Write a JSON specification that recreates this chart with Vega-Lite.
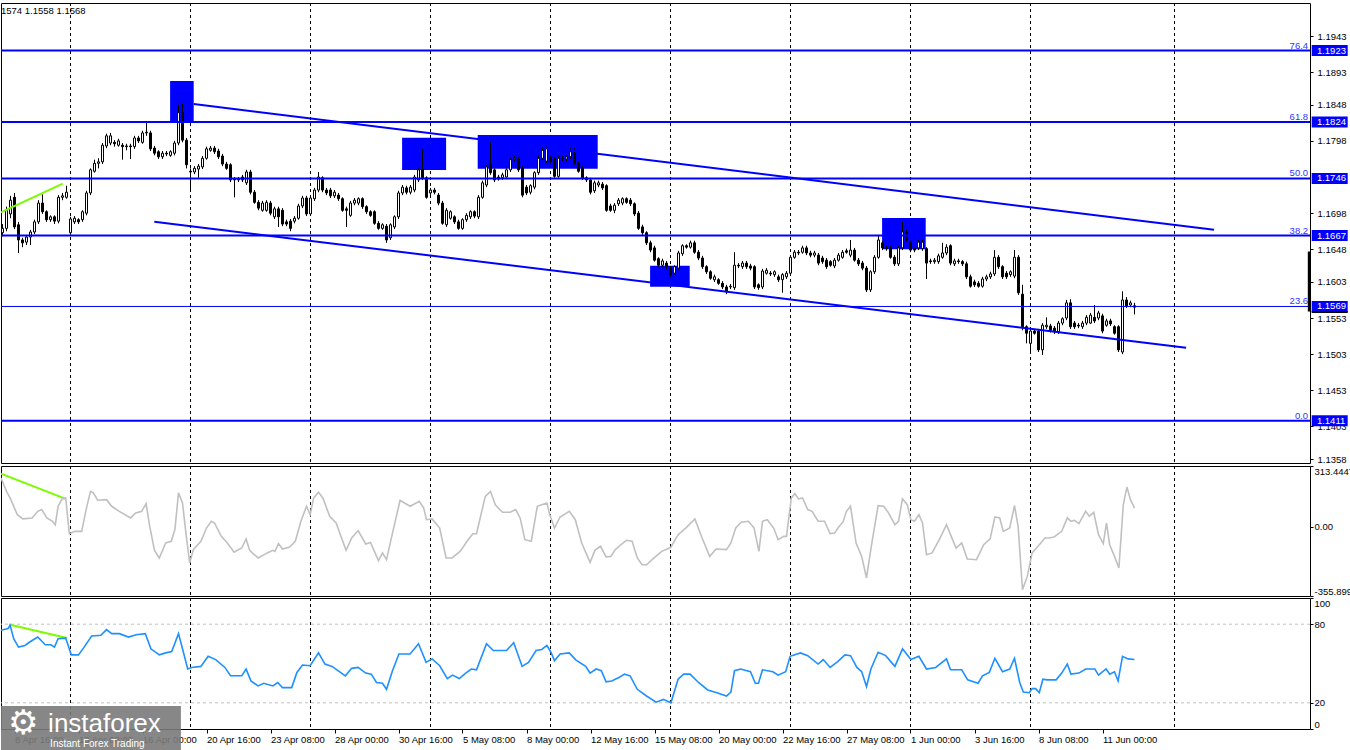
{
"$schema":"https://vega.github.io/schema/vega-lite/v6.json",
"background":"white",
"padding":{"left":0,"top":2,"right":0,"bottom":0},
"spacing":0,
"config":{"view":{"stroke":"black","strokeWidth":1},"axis":{"labelFont":"Liberation Sans","labelFontSize":9.5,"labelColor":"black","tickColor":"black","grid":false,"domain":false},"text":{"font":"Liberation Sans"}},
"datasets":{
"one":[{"k":1}],
"grid":[{"i":17},{"i":47},{"i":77},{"i":107},{"i":137},{"i":167},{"i":197},{"i":227},{"i":257},{"i":293}],
"fib":[{"v":1.1923,"pct":"76.4"},{"v":1.1824,"pct":"61.8"},{"v":1.1746,"pct":"50.0"},{"v":1.1667,"pct":"38.2"},{"v":1.1569,"pct":"23.6"},{"v":1.1411,"pct":"0.0"}],
"chan":[{"x1":47.8,"y1":1.1849,"x2":302.9,"y2":1.1675},{"x1":37.95,"y1":1.1686,"x2":295.9,"y2":1.1512}],
"boxes":[{"x1":41.9,"x2":47.8,"y1":1.18245,"y2":1.18808},{"x1":99.9,"x2":110.9,"y1":1.17577,"y2":1.18024},{"x1":118.8,"x2":148.8,"y1":1.17595,"y2":1.18061},{"x1":161.9,"x2":171.8,"y1":1.15963,"y2":1.16253},{"x1":219.9,"x2":230.8,"y1":1.1648,"y2":1.16913}],
"gmain":[{"i":-0.375,"v":1.1699},{"i":15.05,"v":1.1739}],
"gcci":[{"i":-0.375,"v":274},{"i":15.8,"v":144}],
"grsi":[{"i":1.65,"v":79.7},{"i":16.1,"v":69.4}],
"candles":[
{"i":0,"o":1.1671,"h":1.1683,"l":1.1666,"c":1.1677},{"i":1,"o":1.1677,"h":1.1707,"l":1.1673,"c":1.1702},{"i":2,"o":1.1697,"h":1.1722,"l":1.1691,"c":1.1716},{"i":3,"o":1.172,"h":1.1726,"l":1.1676,"c":1.1679},{"i":4,"o":1.1682,"h":1.1686,"l":1.1643,"c":1.1661},{"i":5,"o":1.1661,"h":1.1664,"l":1.1651,"c":1.1657},{"i":6,"o":1.1658,"h":1.1668,"l":1.1654,"c":1.1665},{"i":7,"o":1.1665,"h":1.1675,"l":1.1654,"c":1.1672},{"i":8,"o":1.1672,"h":1.1689,"l":1.1669,"c":1.1686},{"i":9,"o":1.1686,"h":1.1716,"l":1.1683,"c":1.1712},
{"i":10,"o":1.1712,"h":1.1724,"l":1.1697,"c":1.17},{"i":11,"o":1.17,"h":1.1702,"l":1.1686,"c":1.1689},{"i":12,"o":1.1689,"h":1.1695,"l":1.1686,"c":1.1693},{"i":13,"o":1.1693,"h":1.1695,"l":1.1683,"c":1.1687},{"i":14,"o":1.1687,"h":1.1723,"l":1.1684,"c":1.172},{"i":15,"o":1.172,"h":1.1726,"l":1.1716,"c":1.1722},{"i":16,"o":1.172,"h":1.1736,"l":1.1718,"c":1.1727},{"i":17,"o":1.1671,"h":1.1693,"l":1.1668,"c":1.169},{"i":18,"o":1.1686,"h":1.1694,"l":1.1683,"c":1.1691},{"i":19,"o":1.1689,"h":1.1691,"l":1.1683,"c":1.1686},
{"i":20,"o":1.1689,"h":1.1702,"l":1.1686,"c":1.17},{"i":21,"o":1.1698,"h":1.1729,"l":1.1695,"c":1.1726},{"i":22,"o":1.1726,"h":1.176,"l":1.1723,"c":1.1758},{"i":23,"o":1.1756,"h":1.1772,"l":1.1754,"c":1.1767},{"i":24,"o":1.1767,"h":1.1774,"l":1.176,"c":1.1769},{"i":25,"o":1.1769,"h":1.1795,"l":1.1766,"c":1.1792},{"i":26,"o":1.1791,"h":1.1808,"l":1.1788,"c":1.1805},{"i":27,"o":1.1795,"h":1.1809,"l":1.1792,"c":1.1805},{"i":28,"o":1.1796,"h":1.1799,"l":1.179,"c":1.1794},{"i":29,"o":1.1792,"h":1.1801,"l":1.179,"c":1.1798},
{"i":30,"o":1.1792,"h":1.1795,"l":1.1772,"c":1.179},{"i":31,"o":1.179,"h":1.1794,"l":1.1785,"c":1.1791},{"i":32,"o":1.1791,"h":1.1794,"l":1.1773,"c":1.179},{"i":33,"o":1.179,"h":1.1805,"l":1.1787,"c":1.1802},{"i":34,"o":1.1802,"h":1.1805,"l":1.1795,"c":1.1798},{"i":35,"o":1.1796,"h":1.1812,"l":1.1794,"c":1.1809},{"i":36,"o":1.1809,"h":1.1824,"l":1.1805,"c":1.181},{"i":37,"o":1.1809,"h":1.1812,"l":1.1784,"c":1.1787},{"i":38,"o":1.1788,"h":1.1791,"l":1.1778,"c":1.1781},{"i":39,"o":1.1783,"h":1.1785,"l":1.1773,"c":1.1776},
{"i":40,"o":1.1776,"h":1.1784,"l":1.1773,"c":1.1781},{"i":41,"o":1.1781,"h":1.1784,"l":1.1777,"c":1.178},{"i":42,"o":1.1778,"h":1.1785,"l":1.1776,"c":1.1783},{"i":43,"o":1.1781,"h":1.1798,"l":1.1778,"c":1.1795},{"i":44,"o":1.1795,"h":1.1848,"l":1.1792,"c":1.1837},{"i":45,"o":1.1837,"h":1.1849,"l":1.1796,"c":1.1799},{"i":46,"o":1.1799,"h":1.1802,"l":1.176,"c":1.1765},{"i":47,"o":1.1756,"h":1.176,"l":1.173,"c":1.1755},{"i":48,"o":1.1755,"h":1.1763,"l":1.1752,"c":1.176},{"i":49,"o":1.1759,"h":1.1766,"l":1.1747,"c":1.1763},
{"i":50,"o":1.1762,"h":1.1777,"l":1.1759,"c":1.1774},{"i":51,"o":1.1774,"h":1.179,"l":1.1772,"c":1.1787},{"i":52,"o":1.1785,"h":1.1791,"l":1.1783,"c":1.1788},{"i":53,"o":1.1788,"h":1.1791,"l":1.178,"c":1.1783},{"i":54,"o":1.1784,"h":1.1787,"l":1.1773,"c":1.1776},{"i":55,"o":1.1777,"h":1.178,"l":1.1763,"c":1.1766},{"i":56,"o":1.1766,"h":1.1769,"l":1.1758,"c":1.176},{"i":57,"o":1.1765,"h":1.1767,"l":1.1741,"c":1.1744},{"i":58,"o":1.1745,"h":1.1748,"l":1.172,"c":1.1744},{"i":59,"o":1.1744,"h":1.1748,"l":1.1741,"c":1.1745},
{"i":60,"o":1.1748,"h":1.1751,"l":1.1741,"c":1.1744},{"i":61,"o":1.174,"h":1.1758,"l":1.1737,"c":1.1755},{"i":62,"o":1.1755,"h":1.1758,"l":1.1724,"c":1.1727},{"i":63,"o":1.1727,"h":1.173,"l":1.1711,"c":1.1713},{"i":64,"o":1.1713,"h":1.1716,"l":1.1702,"c":1.1705},{"i":65,"o":1.1702,"h":1.1715,"l":1.17,"c":1.1712},{"i":66,"o":1.1702,"h":1.1716,"l":1.17,"c":1.1713},{"i":67,"o":1.1712,"h":1.1715,"l":1.1695,"c":1.1698},{"i":68,"o":1.1693,"h":1.1707,"l":1.169,"c":1.1704},{"i":69,"o":1.1704,"h":1.1707,"l":1.1679,"c":1.1693},
{"i":70,"o":1.1702,"h":1.1705,"l":1.168,"c":1.1683},{"i":71,"o":1.1686,"h":1.1689,"l":1.168,"c":1.1683},{"i":72,"o":1.1687,"h":1.169,"l":1.1673,"c":1.1677},{"i":73,"o":1.1687,"h":1.1694,"l":1.1684,"c":1.1691},{"i":74,"o":1.1691,"h":1.1711,"l":1.1689,"c":1.1708},{"i":75,"o":1.1708,"h":1.1722,"l":1.1705,"c":1.1719},{"i":76,"o":1.1719,"h":1.1722,"l":1.1694,"c":1.1697},{"i":77,"o":1.1697,"h":1.1722,"l":1.1694,"c":1.1719},{"i":78,"o":1.1718,"h":1.1733,"l":1.1715,"c":1.173},{"i":79,"o":1.173,"h":1.1755,"l":1.1727,"c":1.1748},
{"i":80,"o":1.1747,"h":1.1749,"l":1.1727,"c":1.173},{"i":81,"o":1.173,"h":1.1733,"l":1.1723,"c":1.1726},{"i":82,"o":1.173,"h":1.1733,"l":1.1719,"c":1.1722},{"i":83,"o":1.1722,"h":1.173,"l":1.1719,"c":1.1727},{"i":84,"o":1.1723,"h":1.1726,"l":1.1715,"c":1.1718},{"i":85,"o":1.1718,"h":1.172,"l":1.17,"c":1.1702},{"i":86,"o":1.1704,"h":1.1707,"l":1.1679,"c":1.1702},{"i":87,"o":1.1695,"h":1.1715,"l":1.1693,"c":1.1712},{"i":88,"o":1.1712,"h":1.1719,"l":1.1709,"c":1.1716},{"i":89,"o":1.1712,"h":1.172,"l":1.1709,"c":1.1718},
{"i":90,"o":1.1718,"h":1.172,"l":1.1704,"c":1.1707},{"i":91,"o":1.1707,"h":1.1709,"l":1.1697,"c":1.17},{"i":92,"o":1.17,"h":1.1702,"l":1.1693,"c":1.1695},{"i":93,"o":1.17,"h":1.1702,"l":1.1682,"c":1.1684},{"i":94,"o":1.1684,"h":1.1687,"l":1.1675,"c":1.1677},{"i":95,"o":1.1677,"h":1.1684,"l":1.1675,"c":1.1682},{"i":96,"o":1.168,"h":1.1683,"l":1.1657,"c":1.1661},{"i":97,"o":1.1664,"h":1.1684,"l":1.1661,"c":1.1682},{"i":98,"o":1.1679,"h":1.1695,"l":1.1676,"c":1.1693},{"i":99,"o":1.1693,"h":1.1729,"l":1.169,"c":1.1726},
{"i":100,"o":1.1726,"h":1.1737,"l":1.1723,"c":1.1734},{"i":101,"o":1.1733,"h":1.1736,"l":1.1724,"c":1.1727},{"i":102,"o":1.1727,"h":1.1737,"l":1.1724,"c":1.1734},{"i":103,"o":1.173,"h":1.1751,"l":1.1727,"c":1.1748},{"i":104,"o":1.1744,"h":1.176,"l":1.1741,"c":1.1758},{"i":105,"o":1.1758,"h":1.1787,"l":1.1744,"c":1.1747},{"i":106,"o":1.1747,"h":1.1749,"l":1.1718,"c":1.172},{"i":107,"o":1.1726,"h":1.1733,"l":1.1723,"c":1.173},{"i":108,"o":1.173,"h":1.1733,"l":1.1724,"c":1.1727},{"i":109,"o":1.1723,"h":1.1726,"l":1.1709,"c":1.1712},
{"i":110,"o":1.1712,"h":1.1715,"l":1.1682,"c":1.1684},{"i":111,"o":1.1682,"h":1.1705,"l":1.1679,"c":1.1702},{"i":112,"o":1.1691,"h":1.1702,"l":1.1689,"c":1.17},{"i":113,"o":1.1693,"h":1.1695,"l":1.1683,"c":1.1686},{"i":114,"o":1.1686,"h":1.1689,"l":1.1675,"c":1.1677},{"i":115,"o":1.1677,"h":1.1691,"l":1.1675,"c":1.1689},{"i":116,"o":1.1689,"h":1.1698,"l":1.1686,"c":1.1695},{"i":117,"o":1.1693,"h":1.1702,"l":1.169,"c":1.17},{"i":118,"o":1.17,"h":1.1702,"l":1.1691,"c":1.1694},{"i":119,"o":1.1693,"h":1.1723,"l":1.169,"c":1.172},
{"i":120,"o":1.172,"h":1.1743,"l":1.1718,"c":1.174},{"i":121,"o":1.1737,"h":1.1765,"l":1.1734,"c":1.1762},{"i":122,"o":1.1765,"h":1.1796,"l":1.1751,"c":1.1754},{"i":123,"o":1.1758,"h":1.176,"l":1.1741,"c":1.1744},{"i":124,"o":1.1748,"h":1.1751,"l":1.1743,"c":1.1745},{"i":125,"o":1.1747,"h":1.1754,"l":1.1744,"c":1.1751},{"i":126,"o":1.1748,"h":1.176,"l":1.1745,"c":1.1758},{"i":127,"o":1.1758,"h":1.1774,"l":1.1755,"c":1.1772},{"i":128,"o":1.1772,"h":1.1777,"l":1.1769,"c":1.1774},{"i":129,"o":1.1773,"h":1.1776,"l":1.1755,"c":1.1758},
{"i":130,"o":1.176,"h":1.1763,"l":1.172,"c":1.1723},{"i":131,"o":1.1734,"h":1.1737,"l":1.1723,"c":1.1726},{"i":132,"o":1.1727,"h":1.1738,"l":1.1724,"c":1.1736},{"i":133,"o":1.1734,"h":1.1756,"l":1.1731,"c":1.1754},{"i":134,"o":1.1754,"h":1.1777,"l":1.1751,"c":1.1774},{"i":135,"o":1.1774,"h":1.1788,"l":1.1772,"c":1.1785},{"i":136,"o":1.177,"h":1.1791,"l":1.1767,"c":1.1787},{"i":137,"o":1.1774,"h":1.1777,"l":1.1766,"c":1.1769},{"i":138,"o":1.1773,"h":1.1776,"l":1.1747,"c":1.1749},{"i":139,"o":1.1749,"h":1.1777,"l":1.1747,"c":1.1774},
{"i":140,"o":1.1774,"h":1.1777,"l":1.177,"c":1.1773},{"i":141,"o":1.1773,"h":1.1778,"l":1.177,"c":1.1776},{"i":142,"o":1.1776,"h":1.1788,"l":1.1773,"c":1.1783},{"i":143,"o":1.1781,"h":1.1788,"l":1.1765,"c":1.1767},{"i":144,"o":1.1767,"h":1.177,"l":1.1754,"c":1.1756},{"i":145,"o":1.176,"h":1.1763,"l":1.1744,"c":1.1747},{"i":146,"o":1.1747,"h":1.1749,"l":1.1741,"c":1.1744},{"i":147,"o":1.1744,"h":1.1747,"l":1.1724,"c":1.1727},{"i":148,"o":1.1729,"h":1.1743,"l":1.1726,"c":1.174},{"i":149,"o":1.1737,"h":1.1743,"l":1.1734,"c":1.174},
{"i":150,"o":1.1738,"h":1.1741,"l":1.173,"c":1.1733},{"i":151,"o":1.1736,"h":1.1738,"l":1.17,"c":1.1702},{"i":152,"o":1.1708,"h":1.1711,"l":1.17,"c":1.1702},{"i":153,"o":1.1702,"h":1.1712,"l":1.1698,"c":1.1709},{"i":154,"o":1.1711,"h":1.1719,"l":1.1708,"c":1.1716},{"i":155,"o":1.1712,"h":1.172,"l":1.1709,"c":1.1718},{"i":156,"o":1.1718,"h":1.172,"l":1.1711,"c":1.1713},{"i":157,"o":1.1716,"h":1.1719,"l":1.1708,"c":1.1711},{"i":158,"o":1.1711,"h":1.1713,"l":1.1694,"c":1.1697},{"i":159,"o":1.1698,"h":1.1701,"l":1.1675,"c":1.1677},
{"i":160,"o":1.1679,"h":1.1682,"l":1.1668,"c":1.1671},{"i":161,"o":1.1671,"h":1.1673,"l":1.1654,"c":1.1657},{"i":162,"o":1.1657,"h":1.166,"l":1.1644,"c":1.1647},{"i":163,"o":1.165,"h":1.1653,"l":1.1631,"c":1.1633},{"i":164,"o":1.1635,"h":1.1637,"l":1.1624,"c":1.1626},{"i":165,"o":1.1626,"h":1.1635,"l":1.1624,"c":1.1632},{"i":166,"o":1.1629,"h":1.1632,"l":1.1621,"c":1.1624},{"i":167,"o":1.1622,"h":1.1625,"l":1.161,"c":1.1613},{"i":168,"o":1.1615,"h":1.1626,"l":1.1613,"c":1.1624},{"i":169,"o":1.1622,"h":1.1646,"l":1.1619,"c":1.1643},
{"i":170,"o":1.1642,"h":1.1655,"l":1.1639,"c":1.1653},{"i":171,"o":1.1653,"h":1.1655,"l":1.1649,"c":1.1651},{"i":172,"o":1.1651,"h":1.166,"l":1.1649,"c":1.1657},{"i":173,"o":1.1657,"h":1.166,"l":1.1642,"c":1.1644},{"i":174,"o":1.1644,"h":1.1647,"l":1.1633,"c":1.1636},{"i":175,"o":1.1636,"h":1.1639,"l":1.1621,"c":1.1624},{"i":176,"o":1.1624,"h":1.1626,"l":1.1614,"c":1.1617},{"i":177,"o":1.1617,"h":1.1619,"l":1.1606,"c":1.1608},{"i":178,"o":1.1606,"h":1.1613,"l":1.1603,"c":1.161},{"i":179,"o":1.1606,"h":1.1608,"l":1.1599,"c":1.1601},
{"i":180,"o":1.1601,"h":1.1604,"l":1.1593,"c":1.1596},{"i":181,"o":1.1596,"h":1.1599,"l":1.1586,"c":1.1589},{"i":182,"o":1.1596,"h":1.16,"l":1.1593,"c":1.1597},{"i":183,"o":1.1595,"h":1.1644,"l":1.1592,"c":1.1626},{"i":184,"o":1.1626,"h":1.1629,"l":1.1622,"c":1.1625},{"i":185,"o":1.1624,"h":1.1632,"l":1.1621,"c":1.1629},{"i":186,"o":1.1629,"h":1.1632,"l":1.1621,"c":1.1624},{"i":187,"o":1.1625,"h":1.1628,"l":1.1619,"c":1.1622},{"i":188,"o":1.1624,"h":1.1626,"l":1.1593,"c":1.1596},{"i":189,"o":1.1599,"h":1.1601,"l":1.1592,"c":1.1595},
{"i":190,"o":1.1596,"h":1.1621,"l":1.1593,"c":1.1618},{"i":191,"o":1.1615,"h":1.1622,"l":1.1613,"c":1.1619},{"i":192,"o":1.1615,"h":1.1618,"l":1.1611,"c":1.1614},{"i":193,"o":1.1613,"h":1.1619,"l":1.161,"c":1.1617},{"i":194,"o":1.161,"h":1.1613,"l":1.1603,"c":1.1606},{"i":195,"o":1.1606,"h":1.1615,"l":1.1588,"c":1.1613},{"i":196,"o":1.161,"h":1.1618,"l":1.1607,"c":1.1615},{"i":197,"o":1.1615,"h":1.164,"l":1.1613,"c":1.1637},{"i":198,"o":1.1637,"h":1.1647,"l":1.1635,"c":1.1644},{"i":199,"o":1.1644,"h":1.1647,"l":1.164,"c":1.1643},
{"i":200,"o":1.1644,"h":1.1653,"l":1.1642,"c":1.165},{"i":201,"o":1.165,"h":1.1653,"l":1.164,"c":1.1643},{"i":202,"o":1.1643,"h":1.1646,"l":1.1637,"c":1.164},{"i":203,"o":1.164,"h":1.1646,"l":1.1637,"c":1.1643},{"i":204,"o":1.164,"h":1.1643,"l":1.1626,"c":1.1629},{"i":205,"o":1.1636,"h":1.1639,"l":1.1628,"c":1.1631},{"i":206,"o":1.1633,"h":1.1636,"l":1.1621,"c":1.1624},{"i":207,"o":1.1631,"h":1.1633,"l":1.1624,"c":1.1626},{"i":208,"o":1.1625,"h":1.1636,"l":1.1622,"c":1.1633},{"i":209,"o":1.1633,"h":1.1643,"l":1.1631,"c":1.164},
{"i":210,"o":1.1637,"h":1.1647,"l":1.1635,"c":1.1644},{"i":211,"o":1.1646,"h":1.1649,"l":1.1642,"c":1.1644},{"i":212,"o":1.164,"h":1.1661,"l":1.1637,"c":1.1647},{"i":213,"o":1.1647,"h":1.165,"l":1.1631,"c":1.1633},{"i":214,"o":1.1633,"h":1.1636,"l":1.1625,"c":1.1628},{"i":215,"o":1.1629,"h":1.1632,"l":1.1619,"c":1.1622},{"i":216,"o":1.1622,"h":1.1625,"l":1.1589,"c":1.1592},{"i":217,"o":1.1592,"h":1.1619,"l":1.1589,"c":1.1617},{"i":218,"o":1.1617,"h":1.164,"l":1.1614,"c":1.1637},{"i":219,"o":1.1637,"h":1.1668,"l":1.1635,"c":1.1661},
{"i":220,"o":1.1657,"h":1.166,"l":1.1647,"c":1.165},{"i":221,"o":1.165,"h":1.1653,"l":1.1646,"c":1.1649},{"i":222,"o":1.165,"h":1.1653,"l":1.1635,"c":1.1637},{"i":223,"o":1.1637,"h":1.164,"l":1.1625,"c":1.1628},{"i":224,"o":1.1628,"h":1.1653,"l":1.1625,"c":1.165},{"i":225,"o":1.165,"h":1.1686,"l":1.1647,"c":1.1672},{"i":226,"o":1.1672,"h":1.1675,"l":1.1658,"c":1.1661},{"i":227,"o":1.1657,"h":1.166,"l":1.1644,"c":1.1647},{"i":228,"o":1.1649,"h":1.1651,"l":1.1644,"c":1.1647},{"i":229,"o":1.165,"h":1.1661,"l":1.1647,"c":1.1658},
{"i":230,"o":1.1649,"h":1.1661,"l":1.1646,"c":1.1658},{"i":231,"o":1.1649,"h":1.1651,"l":1.1607,"c":1.1629},{"i":232,"o":1.1632,"h":1.1635,"l":1.1628,"c":1.1631},{"i":233,"o":1.1631,"h":1.1636,"l":1.1628,"c":1.1633},{"i":234,"o":1.1631,"h":1.1642,"l":1.1628,"c":1.1639},{"i":235,"o":1.1637,"h":1.1657,"l":1.1635,"c":1.1643},{"i":236,"o":1.1643,"h":1.1655,"l":1.164,"c":1.1651},{"i":237,"o":1.1653,"h":1.1655,"l":1.1626,"c":1.1629},{"i":238,"o":1.1628,"h":1.1635,"l":1.1625,"c":1.1632},{"i":239,"o":1.1632,"h":1.1635,"l":1.1628,"c":1.1631},
{"i":240,"o":1.1631,"h":1.1633,"l":1.1625,"c":1.1628},{"i":241,"o":1.1628,"h":1.1631,"l":1.1607,"c":1.161},{"i":242,"o":1.161,"h":1.1613,"l":1.1595,"c":1.1597},{"i":243,"o":1.1603,"h":1.1606,"l":1.1596,"c":1.1599},{"i":244,"o":1.1601,"h":1.1604,"l":1.1595,"c":1.1597},{"i":245,"o":1.1597,"h":1.161,"l":1.1595,"c":1.1607},{"i":246,"o":1.1607,"h":1.1613,"l":1.1604,"c":1.161},{"i":247,"o":1.161,"h":1.1617,"l":1.1607,"c":1.1614},{"i":248,"o":1.1614,"h":1.1647,"l":1.1611,"c":1.1637},{"i":249,"o":1.1637,"h":1.164,"l":1.1621,"c":1.1624},
{"i":250,"o":1.1624,"h":1.1626,"l":1.1607,"c":1.161},{"i":251,"o":1.1615,"h":1.1618,"l":1.1607,"c":1.161},{"i":252,"o":1.1613,"h":1.1619,"l":1.161,"c":1.1617},{"i":253,"o":1.1611,"h":1.1647,"l":1.1608,"c":1.1637},{"i":254,"o":1.1637,"h":1.164,"l":1.1585,"c":1.1588},{"i":255,"o":1.1586,"h":1.1599,"l":1.1536,"c":1.1541},{"i":256,"o":1.1541,"h":1.1543,"l":1.1518,"c":1.1532},{"i":257,"o":1.1518,"h":1.1538,"l":1.1506,"c":1.1535},{"i":258,"o":1.1535,"h":1.1538,"l":1.153,"c":1.1532},{"i":259,"o":1.1535,"h":1.1538,"l":1.1506,"c":1.1509},
{"i":260,"o":1.1509,"h":1.1546,"l":1.1502,"c":1.1543},{"i":261,"o":1.1541,"h":1.1554,"l":1.1538,"c":1.1543},{"i":262,"o":1.1542,"h":1.1545,"l":1.1533,"c":1.1536},{"i":263,"o":1.1539,"h":1.1542,"l":1.1531,"c":1.1534},{"i":264,"o":1.1534,"h":1.1549,"l":1.1531,"c":1.1546},{"i":265,"o":1.1546,"h":1.1554,"l":1.1543,"c":1.1552},{"i":266,"o":1.1553,"h":1.1578,"l":1.155,"c":1.1574},{"i":267,"o":1.1574,"h":1.1579,"l":1.1538,"c":1.1541},{"i":268,"o":1.1546,"h":1.1549,"l":1.1538,"c":1.1541},{"i":269,"o":1.1543,"h":1.1546,"l":1.1539,"c":1.1542},
{"i":270,"o":1.1541,"h":1.1549,"l":1.1538,"c":1.1546},{"i":271,"o":1.1546,"h":1.1557,"l":1.1543,"c":1.1554},{"i":272,"o":1.1546,"h":1.156,"l":1.1545,"c":1.1557},{"i":273,"o":1.1554,"h":1.1571,"l":1.1546,"c":1.1549},{"i":274,"o":1.1553,"h":1.1563,"l":1.155,"c":1.156},{"i":275,"o":1.1556,"h":1.1559,"l":1.1532,"c":1.1535},{"i":276,"o":1.1543,"h":1.1552,"l":1.1541,"c":1.1549},{"i":277,"o":1.1549,"h":1.1552,"l":1.1542,"c":1.1545},{"i":278,"o":1.1541,"h":1.1543,"l":1.153,"c":1.1532},{"i":279,"o":1.1541,"h":1.1543,"l":1.1506,"c":1.1509},
{"i":280,"o":1.1506,"h":1.159,"l":1.1503,"c":1.1578},{"i":281,"o":1.1578,"h":1.1582,"l":1.1567,"c":1.157},{"i":282,"o":1.1571,"h":1.1577,"l":1.1568,"c":1.1574},{"i":283,"o":1.157,"h":1.1574,"l":1.1558,"c":1.1568}
],
"cci":[{"i":-0.375,"v":252},{"i":1,"v":183},{"i":1.9,"v":149},{"i":3.7,"v":63},{"i":5.1,"v":41},{"i":7.4,"v":46},{"i":8.8,"v":80},{"i":9.8,"v":89},{"i":11.1,"v":46},{"i":12.5,"v":29},{"i":13.2,"v":11},{"i":13.9,"v":106},{"i":14.9,"v":144},{"i":15.8,"v":149},{"i":16.7,"v":-35},{"i":18.1,"v":-23},{"i":19.8,"v":-23},{"i":20.9,"v":89},{"i":22,"v":183},{"i":22.7,"v":175},{"i":23.8,"v":137},{"i":26,"v":140},{"i":27.3,"v":106},{"i":29.2,"v":80},{"i":32,"v":46},{"i":33.3,"v":72},{"i":34.8,"v":80},{"i":35.9,"v":120},{"i":36.8,"v":3},{"i":38,"v":-121},{"i":39.2,"v":-160},{"i":40.8,"v":-83},{"i":42.2,"v":-74},{"i":43.1,"v":-14},{"i":44,"v":175},{"i":45,"v":123},{"i":45.9,"v":-40},{"i":46.8,"v":-186},{"i":47.7,"v":-117},{"i":49.6,"v":-74},{"i":51,"v":-6},{"i":52.2,"v":29},{"i":53,"v":20},{"i":54.7,"v":-49},{"i":56.2,"v":-83},{"i":57.9,"v":-131},{"i":59.8,"v":-109},{"i":60.9,"v":-62},{"i":61.8,"v":-121},{"i":63.9,"v":-160},{"i":66.2,"v":-134},{"i":67.6,"v":-121},{"i":68.1,"v":-126},{"i":69,"v":-86},{"i":70,"v":-114},{"i":71.8,"v":-104},{"i":73.2,"v":-74},{"i":74.6,"v":29},{"i":76,"v":106},{"i":76.9,"v":63},{"i":77.8,"v":149},{"i":79,"v":178},{"i":80.1,"v":149},{"i":81.8,"v":54},{"i":83.4,"v":20},{"i":85.9,"v":-121},{"i":87.3,"v":-57},{"i":88.9,"v":-19},{"i":90.8,"v":-88},{"i":92,"v":-80},{"i":94,"v":-174},{"i":95,"v":-134},{"i":96,"v":-169},{"i":97.5,"v":-32},{"i":99.4,"v":137},{"i":100.5,"v":123},{"i":101.9,"v":106},{"i":104.2,"v":132},{"i":105.3,"v":97},{"i":106,"v":37},{"i":107.4,"v":41},{"i":109.3,"v":-6},{"i":110.9,"v":-160},{"i":112.4,"v":-160},{"i":114.4,"v":-126},{"i":116.4,"v":-66},{"i":117.6,"v":-35},{"i":118.5,"v":-35},{"i":120.7,"v":157},{"i":122,"v":183},{"i":123.2,"v":114},{"i":125,"v":75},{"i":126.9,"v":75},{"i":128.3,"v":89},{"i":129.4,"v":46},{"i":130.6,"v":-66},{"i":132.2,"v":-74},{"i":133.7,"v":106},{"i":134.8,"v":114},{"i":136.1,"v":123},{"i":136.8,"v":63},{"i":138,"v":-6},{"i":139.4,"v":51},{"i":141.7,"v":80},{"i":143.2,"v":37},{"i":144.8,"v":-83},{"i":146.9,"v":-183},{"i":148.1,"v":-121},{"i":149.5,"v":-100},{"i":150.9,"v":-155},{"i":152.1,"v":-152},{"i":153.2,"v":-117},{"i":154.6,"v":-92},{"i":156,"v":-69},{"i":157.4,"v":-74},{"i":158.7,"v":-160},{"i":159.9,"v":-195},{"i":161,"v":-195},{"i":162.9,"v":-160},{"i":164.8,"v":-126},{"i":167.1,"v":-105},{"i":168.9,"v":-40},{"i":170.8,"v":-6},{"i":173.1,"v":41},{"i":174.9,"v":-57},{"i":176.8,"v":-152},{"i":178.4,"v":-114},{"i":181,"v":-117},{"i":182.1,"v":-83},{"i":183.3,"v":-6},{"i":184.7,"v":24},{"i":186.5,"v":29},{"i":187.9,"v":-6},{"i":189.1,"v":-126},{"i":190,"v":29},{"i":191.2,"v":37},{"i":192.8,"v":-6},{"i":193.9,"v":-66},{"i":195.3,"v":-49},{"i":196,"v":-49},{"i":197.2,"v":149},{"i":198.1,"v":171},{"i":199,"v":144},{"i":200,"v":149},{"i":201.3,"v":89},{"i":202.4,"v":80},{"i":203.9,"v":29},{"i":205.5,"v":29},{"i":206.9,"v":-35},{"i":208,"v":-32},{"i":209.2,"v":3},{"i":210.1,"v":24},{"i":211,"v":80},{"i":212,"v":106},{"i":213.4,"v":-83},{"i":214.8,"v":-152},{"i":216,"v":-263},{"i":217.2,"v":-100},{"i":218.9,"v":109},{"i":220.3,"v":106},{"i":221.5,"v":72},{"i":223.1,"v":11},{"i":224,"v":29},{"i":225,"v":144},{"i":226.2,"v":114},{"i":227.1,"v":37},{"i":228,"v":29},{"i":229.1,"v":63},{"i":230,"v":20},{"i":231,"v":-143},{"i":232.4,"v":-134},{"i":234.2,"v":-66},{"i":236,"v":11},{"i":237,"v":-40},{"i":238.4,"v":-109},{"i":239.8,"v":-83},{"i":241.2,"v":-165},{"i":243.5,"v":-169},{"i":245.3,"v":-92},{"i":246.9,"v":-62},{"i":248.1,"v":51},{"i":249.3,"v":46},{"i":250.2,"v":-23},{"i":251.8,"v":-6},{"i":253,"v":109},{"i":253.9,"v":3},{"i":255,"v":-323},{"i":256.2,"v":-255},{"i":257.4,"v":-134},{"i":258.9,"v":-100},{"i":260.6,"v":-57},{"i":261.5,"v":-57},{"i":262.9,"v":-52},{"i":264.8,"v":-23},{"i":266.2,"v":46},{"i":267.1,"v":29},{"i":268,"v":34},{"i":269.1,"v":17},{"i":270.8,"v":80},{"i":271.7,"v":54},{"i":272.8,"v":75},{"i":274,"v":-40},{"i":275.2,"v":-86},{"i":276,"v":20},{"i":276.8,"v":-92},{"i":278,"v":-152},{"i":279.1,"v":-212},{"i":280.2,"v":114},{"i":281.1,"v":205},{"i":282,"v":140},{"i":283,"v":97}],
"rsi":[{"i":-0.375,"v":75.4},{"i":1.4,"v":76.7},{"i":1.9,"v":79.2},{"i":2.8,"v":68.9},{"i":4,"v":62.5},{"i":5.6,"v":63.8},{"i":6.8,"v":66.4},{"i":8.8,"v":70.2},{"i":10.7,"v":64.3},{"i":12.1,"v":64.3},{"i":13,"v":62.5},{"i":13.9,"v":68.9},{"i":15.8,"v":69.4},{"i":17.2,"v":56.6},{"i":19,"v":56.6},{"i":20.4,"v":62.5},{"i":22.3,"v":71},{"i":24.6,"v":71.5},{"i":26,"v":75.9},{"i":27.3,"v":72.8},{"i":29.2,"v":72.8},{"i":31.5,"v":70.2},{"i":33.4,"v":72},{"i":35.7,"v":72.8},{"i":37.1,"v":61.2},{"i":39.2,"v":56.6},{"i":40.8,"v":58.1},{"i":42.3,"v":59.1},{"i":44,"v":72.8},{"i":45,"v":61.2},{"i":46.3,"v":45.8},{"i":47.3,"v":47},{"i":49.6,"v":47.8},{"i":51.4,"v":55.5},{"i":53.3,"v":53},{"i":55.6,"v":47},{"i":57,"v":40.6},{"i":59.8,"v":40.6},{"i":60.9,"v":45.8},{"i":62.1,"v":36.7},{"i":63.9,"v":32.9},{"i":65.3,"v":34.9},{"i":67.6,"v":32.9},{"i":68.8,"v":35.5},{"i":70,"v":31.6},{"i":72.3,"v":31.6},{"i":73.6,"v":43.2},{"i":75,"v":48.8},{"i":76.9,"v":48.3},{"i":79,"v":58.1},{"i":80.6,"v":49.6},{"i":82.4,"v":47.8},{"i":85.7,"v":40.6},{"i":87.3,"v":46.3},{"i":88.9,"v":47},{"i":90.8,"v":42.7},{"i":92.2,"v":41.9},{"i":93.5,"v":35.5},{"i":95,"v":34.9},{"i":96,"v":30.3},{"i":97.5,"v":44.5},{"i":99.1,"v":57.3},{"i":101.9,"v":57.3},{"i":104,"v":65.1},{"i":105.9,"v":50.9},{"i":107.4,"v":53.5},{"i":109.3,"v":48.3},{"i":111.2,"v":38.5},{"i":112.5,"v":41.1},{"i":114.2,"v":38.5},{"i":115.8,"v":42.7},{"i":117.2,"v":45.8},{"i":118.5,"v":45.2},{"i":121,"v":65.1},{"i":122.7,"v":59.9},{"i":126,"v":59.9},{"i":127.8,"v":65.8},{"i":129.9,"v":47.8},{"i":131.5,"v":50.9},{"i":133.4,"v":59.9},{"i":134.8,"v":60.7},{"i":136.1,"v":63.8},{"i":137.1,"v":58.6},{"i":138,"v":52.2},{"i":139.4,"v":57.3},{"i":141.7,"v":58.1},{"i":143.3,"v":52.8},{"i":145.8,"v":47.8},{"i":146.9,"v":42.7},{"i":148.4,"v":45.8},{"i":149.7,"v":44.5},{"i":150.9,"v":36},{"i":152.3,"v":36.7},{"i":154.1,"v":39.3},{"i":155.5,"v":41.9},{"i":156.9,"v":40.6},{"i":158.7,"v":30.3},{"i":161,"v":25.2},{"i":163.4,"v":20.5},{"i":165.2,"v":22.6},{"i":167.1,"v":20},{"i":168.9,"v":38},{"i":170.3,"v":41.9},{"i":171.9,"v":41.9},{"i":174,"v":35.5},{"i":176.3,"v":29.8},{"i":178.6,"v":27.7},{"i":181,"v":25.2},{"i":182.1,"v":28.2},{"i":183,"v":44.5},{"i":184.5,"v":45.8},{"i":187,"v":43.7},{"i":188.2,"v":34.9},{"i":189,"v":34.9},{"i":190,"v":45.2},{"i":192.6,"v":43.7},{"i":193.9,"v":41.1},{"i":195.8,"v":43.7},{"i":196.9,"v":55.5},{"i":199.5,"v":58.1},{"i":201.3,"v":56},{"i":203.9,"v":49.6},{"i":205.2,"v":53},{"i":206.9,"v":47},{"i":208.8,"v":51.4},{"i":210.6,"v":56.6},{"i":212,"v":56},{"i":213.6,"v":47},{"i":214.8,"v":43.7},{"i":216,"v":32.4},{"i":217.1,"v":45.8},{"i":218.9,"v":58.6},{"i":220.8,"v":56},{"i":223.1,"v":47.8},{"i":225,"v":61.2},{"i":227.1,"v":53},{"i":229.1,"v":55.5},{"i":231,"v":45.8},{"i":233.3,"v":47},{"i":236,"v":53.5},{"i":237,"v":45.2},{"i":239.8,"v":45.2},{"i":241.3,"v":37.5},{"i":243.9,"v":34.9},{"i":245,"v":40.6},{"i":246.7,"v":43.2},{"i":248.1,"v":54},{"i":250,"v":43.7},{"i":251.8,"v":45.8},{"i":253,"v":54},{"i":254.3,"v":35.5},{"i":255.2,"v":28.2},{"i":256.7,"v":27.7},{"i":257.4,"v":30.8},{"i":258.3,"v":30.8},{"i":259.2,"v":27.7},{"i":260.1,"v":38},{"i":261.1,"v":37.5},{"i":263.4,"v":37.5},{"i":264.8,"v":42.7},{"i":266.2,"v":49.6},{"i":267.1,"v":41.9},{"i":269.1,"v":42.7},{"i":270.8,"v":45.8},{"i":273.1,"v":45.8},{"i":274,"v":41.1},{"i":275.9,"v":45.8},{"i":276.8,"v":41.9},{"i":278,"v":43.7},{"i":278.9,"v":36.7},{"i":280,"v":55.5},{"i":281.4,"v":53.5},{"i":283,"v":53}]
},
"vconcat":[
{"width":1309,"height":460,
 "layer":[
  {"data":{"name":"grid"},"mark":{"type":"rule","color":"black","strokeWidth":1,"strokeDash":[3,3],"clip":true},"encoding":{"x":{"field":"i","type":"quantitative","scale":{"domain":[-0.375,326.875],"nice":false,"zero":false,"padding":0},"axis":null}}},
  {"data":{"name":"boxes"},"mark":{"type":"rect","color":"#0000ff","clip":true},"encoding":{"x":{"field":"x1","type":"quantitative","axis":null},"x2":{"field":"x2"},"y":{"field":"y1","type":"quantitative","scale":{"domain":[1.13525,1.19887],"nice":false,"zero":false,"padding":0},"axis":{"orient":"right","title":null,"values":[1.1943,1.1893,1.1848,1.1798,1.1698,1.1648,1.1603,1.1553,1.1503,1.1453,1.1403,1.1358],"format":".4f","tickSize":3,"labelPadding":4,"labelOverlap":false}},"y2":{"field":"y2"}}},
  {"data":{"name":"candles"},"mark":{"type":"rule","color":"black","strokeWidth":1,"clip":true},"encoding":{
    "x":{"field":"i","type":"quantitative","axis":null},
    "y":{"field":"l","type":"quantitative","axis":{"orient":"right","title":null,"values":[1.1943,1.1893,1.1848,1.1798,1.1698,1.1648,1.1603,1.1553,1.1503,1.1453,1.1403,1.1358],"format":".4f","tickSize":3,"labelPadding":4,"labelOverlap":false}},
    "y2":{"field":"h"}}},
  {"data":{"name":"candles"},"mark":{"type":"bar","size":2,"stroke":"black","strokeWidth":1,"clip":true},"encoding":{
    "x":{"field":"i","type":"quantitative","axis":null},
    "y":{"field":"o","type":"quantitative","axis":{"orient":"right","title":null,"values":[1.1943,1.1893,1.1848,1.1798,1.1698,1.1648,1.1603,1.1553,1.1503,1.1453,1.1403,1.1358],"format":".4f","tickSize":3,"labelPadding":4,"labelOverlap":false}},"y2":{"field":"c"},
    "fill":{"condition":{"test":"datum.c >= datum.o","value":"white"},"value":"black"}}},
  {"data":{"name":"fib"},"transform":[{"filter":"datum.pct != '23.6'"}],"mark":{"type":"rule","color":"#0000ff","strokeWidth":2,"clip":true},"encoding":{"y":{"field":"v","type":"quantitative","axis":{"orient":"right","title":null,"values":[1.1943,1.1893,1.1848,1.1798,1.1698,1.1648,1.1603,1.1553,1.1503,1.1453,1.1403,1.1358],"format":".4f","tickSize":3,"labelPadding":4,"labelOverlap":false}}}},
  {"data":{"name":"fib"},"transform":[{"filter":"datum.pct == '23.6'"}],"mark":{"type":"rule","color":"#0000ff","strokeWidth":1,"clip":true},"encoding":{"y":{"field":"v","type":"quantitative","axis":{"orient":"right","title":null,"values":[1.1943,1.1893,1.1848,1.1798,1.1698,1.1648,1.1603,1.1553,1.1503,1.1453,1.1403,1.1358],"format":".4f","tickSize":3,"labelPadding":4,"labelOverlap":false}}}},
  {"data":{"name":"chan"},"mark":{"type":"rule","color":"#0000ff","strokeWidth":2,"clip":true},"encoding":{"x":{"field":"x1","type":"quantitative","axis":null},"x2":{"field":"x2"},"y":{"field":"y1","type":"quantitative","axis":{"orient":"right","title":null,"values":[1.1943,1.1893,1.1848,1.1798,1.1698,1.1648,1.1603,1.1553,1.1503,1.1453,1.1403,1.1358],"format":".4f","tickSize":3,"labelPadding":4,"labelOverlap":false}},"y2":{"field":"y2"}}},
  {"data":{"name":"gmain"},"mark":{"type":"line","color":"#7CFC00","strokeWidth":2,"clip":true},"encoding":{"x":{"field":"i","type":"quantitative","axis":null},"y":{"field":"v","type":"quantitative","axis":{"orient":"right","title":null,"values":[1.1943,1.1893,1.1848,1.1798,1.1698,1.1648,1.1603,1.1553,1.1503,1.1453,1.1403,1.1358],"format":".4f","tickSize":3,"labelPadding":4,"labelOverlap":false}}}},
  {"data":{"name":"fib"},"mark":{"type":"text","align":"right","baseline":"alphabetic","dy":-2,"fontSize":9.5,"color":"#3232ff","clip":false},"encoding":{"x":{"datum":326.4,"type":"quantitative","axis":null},"y":{"field":"v","type":"quantitative","axis":{"orient":"right","title":null,"values":[1.1943,1.1893,1.1848,1.1798,1.1698,1.1648,1.1603,1.1553,1.1503,1.1453,1.1403,1.1358],"format":".4f","tickSize":3,"labelPadding":4,"labelOverlap":false}},"text":{"field":"pct"}}},
  {"data":{"name":"fib"},"mark":{"type":"bar","size":11,"color":"#0000ff","clip":false},"encoding":{"x":{"datum":327.3,"type":"quantitative","axis":null},"x2":{"datum":336.3},"y":{"field":"v","type":"quantitative","axis":{"orient":"right","title":null,"values":[1.1943,1.1893,1.1848,1.1798,1.1698,1.1648,1.1603,1.1553,1.1503,1.1453,1.1403,1.1358],"format":".4f","tickSize":3,"labelPadding":4,"labelOverlap":false}}}},
  {"data":{"name":"fib"},"mark":{"type":"text","align":"left","baseline":"middle","fontSize":9.5,"color":"white","clip":false},"encoding":{"x":{"datum":328.6,"type":"quantitative","axis":null},"y":{"field":"v","type":"quantitative","axis":{"orient":"right","title":null,"values":[1.1943,1.1893,1.1848,1.1798,1.1698,1.1648,1.1603,1.1553,1.1503,1.1453,1.1403,1.1358],"format":".4f","tickSize":3,"labelPadding":4,"labelOverlap":false}},"text":{"field":"v","type":"quantitative","format":".4f"}}},
  {"data":{"name":"one"},"mark":{"type":"text","align":"left","baseline":"alphabetic","fontSize":9.5,"color":"black","text":"1574 1.1558 1.1568"},"encoding":{"x":{"datum":-0.375,"type":"quantitative","axis":null},"y":{"datum":1.19734,"type":"quantitative","axis":{"orient":"right","title":null,"values":[1.1943,1.1893,1.1848,1.1798,1.1698,1.1648,1.1603,1.1553,1.1503,1.1453,1.1403,1.1358],"format":".4f","tickSize":3,"labelPadding":4,"labelOverlap":false}}}},
  {"data":{"name":"one"},"mark":{"type":"rule","color":"black","strokeWidth":3,"clip":false},"encoding":{"x":{"datum":326.7,"type":"quantitative","axis":null},"y":{"datum":1.1645,"type":"quantitative","axis":{"orient":"right","title":null,"values":[1.1943,1.1893,1.1848,1.1798,1.1698,1.1648,1.1603,1.1553,1.1503,1.1453,1.1403,1.1358],"format":".4f","tickSize":3,"labelPadding":4,"labelOverlap":false}},"y2":{"datum":1.1562}}},
  {"data":{"name":"one"},"mark":{"type":"rule","color":"black","strokeWidth":2,"clip":false},"encoding":{"x":{"datum":327.3,"type":"quantitative","axis":null},"x2":{"datum":336.3},"y":{"datum":1.15615,"type":"quantitative","axis":{"orient":"right","title":null,"values":[1.1943,1.1893,1.1848,1.1798,1.1698,1.1648,1.1603,1.1553,1.1503,1.1453,1.1403,1.1358],"format":".4f","tickSize":3,"labelPadding":4,"labelOverlap":false}}}}
 ]},
{"width":1309,"height":130,
 "layer":[
  {"data":{"name":"grid"},"mark":{"type":"rule","color":"black","strokeWidth":1,"strokeDash":[3,3],"clip":true},"encoding":{"x":{"field":"i","type":"quantitative","scale":{"domain":[-0.375,326.875],"nice":false,"zero":false,"padding":0},"axis":null}}},
  {"data":{"name":"gcci"},"mark":{"type":"line","color":"#7CFC00","strokeWidth":2,"clip":true},"encoding":{"x":{"field":"i","type":"quantitative","axis":null},"y":{"field":"v","type":"quantitative","scale":{"domain":[-355.899,313.4447],"nice":false,"zero":false,"padding":0},"axis":{"orient":"right","title":null,"values":[-355.899,0,313.4447],"labelExpr":"datum.value > 300 ? '313.4447' : (datum.value < -300 ? '-355.899' : '0.00')","labelFlush":true,"tickSize":3,"labelPadding":1,"labelOverlap":false}}}},
  {"data":{"name":"cci"},"mark":{"type":"line","color":"#c0c0c0","strokeWidth":1.6,"clip":true},"encoding":{
    "x":{"field":"i","type":"quantitative","axis":null},
    "y":{"field":"v","type":"quantitative","axis":{"orient":"right","title":null,"values":[-355.899,0,313.4447],"labelExpr":"datum.value > 300 ? '313.4447' : (datum.value < -300 ? '-355.899' : '0.00')","labelFlush":true,"tickSize":3,"labelPadding":1,"labelOverlap":false}}}}
 ]},
{"width":1309,"height":131,
 "layer":[
  {"data":{"name":"grid"},"mark":{"type":"rule","color":"black","strokeWidth":1,"strokeDash":[3,3],"clip":true},"encoding":{"x":{"field":"i","type":"quantitative","scale":{"domain":[-0.375,326.875],"nice":false,"zero":false,"padding":0},"axis":{"orient":"bottom","title":null,"values":[3,19,35,51,67,83,99,115,131,147,163,179,195,211,227,243,259,275],"labelExpr":"['8 Apr 16:00','13 Apr 08:00','16 Apr 00:00','20 Apr 16:00','23 Apr 08:00','28 Apr 00:00','30 Apr 16:00','5 May 08:00','8 May 00:00','12 May 16:00','15 May 08:00','20 May 00:00','22 May 16:00','27 May 08:00','1 Jun 00:00','3 Jun 16:00','8 Jun 08:00','11 Jun 00:00'][round((datum.value-3)/16)]","labelAlign":"left","labelFlush":false,"labelOverlap":false,"labelBound":false,"tickSize":4,"labelPadding":1}}}},
  {"data":{"values":[{"v":80},{"v":20}]},"mark":{"type":"rule","color":"#c0c0c0","strokeWidth":1,"strokeDash":[3,3],"clip":true},"encoding":{"y":{"field":"v","type":"quantitative","scale":{"domain":[0,100],"nice":false,"zero":false,"padding":0},"axis":{"orient":"right","title":null,"values":[0,20,80,100],"labelFlush":true,"tickSize":3,"labelPadding":1,"labelOverlap":false}}}},
  {"data":{"name":"grsi"},"mark":{"type":"line","color":"#7CFC00","strokeWidth":2,"clip":true},"encoding":{"x":{"field":"i","type":"quantitative","axis":{"orient":"bottom","title":null,"values":[3,19,35,51,67,83,99,115,131,147,163,179,195,211,227,243,259,275],"labelExpr":"['8 Apr 16:00','13 Apr 08:00','16 Apr 00:00','20 Apr 16:00','23 Apr 08:00','28 Apr 00:00','30 Apr 16:00','5 May 08:00','8 May 00:00','12 May 16:00','15 May 08:00','20 May 00:00','22 May 16:00','27 May 08:00','1 Jun 00:00','3 Jun 16:00','8 Jun 08:00','11 Jun 00:00'][round((datum.value-3)/16)]","labelAlign":"left","labelFlush":false,"labelOverlap":false,"labelBound":false,"tickSize":4,"labelPadding":1}},"y":{"field":"v","type":"quantitative","axis":{"orient":"right","title":null,"values":[0,20,80,100],"labelFlush":true,"tickSize":3,"labelPadding":1,"labelOverlap":false}}}},
  {"data":{"name":"rsi"},"mark":{"type":"line","color":"#1E90FF","strokeWidth":1.6,"clip":true},"encoding":{"x":{"field":"i","type":"quantitative","axis":{"orient":"bottom","title":null,"values":[3,19,35,51,67,83,99,115,131,147,163,179,195,211,227,243,259,275],"labelExpr":"['8 Apr 16:00','13 Apr 08:00','16 Apr 00:00','20 Apr 16:00','23 Apr 08:00','28 Apr 00:00','30 Apr 16:00','5 May 08:00','8 May 00:00','12 May 16:00','15 May 08:00','20 May 00:00','22 May 16:00','27 May 08:00','1 Jun 00:00','3 Jun 16:00','8 Jun 08:00','11 Jun 00:00'][round((datum.value-3)/16)]","labelAlign":"left","labelFlush":false,"labelOverlap":false,"labelBound":false,"tickSize":4,"labelPadding":1}},"y":{"field":"v","type":"quantitative","axis":{"orient":"right","title":null,"values":[0,20,80,100],"labelFlush":true,"tickSize":3,"labelPadding":1,"labelOverlap":false}}}},
  {"data":{"name":"one"},"mark":{"type":"rect","color":"#7a7a7a","opacity":0.9,"clip":false},"encoding":{"x":{"datum":-0.375,"type":"quantitative","axis":{"orient":"bottom","title":null,"values":[3,19,35,51,67,83,99,115,131,147,163,179,195,211,227,243,259,275],"labelExpr":"['8 Apr 16:00','13 Apr 08:00','16 Apr 00:00','20 Apr 16:00','23 Apr 08:00','28 Apr 00:00','30 Apr 16:00','5 May 08:00','8 May 00:00','12 May 16:00','15 May 08:00','20 May 00:00','22 May 16:00','27 May 08:00','1 Jun 00:00','3 Jun 16:00','8 Jun 08:00','11 Jun 00:00'][round((datum.value-3)/16)]","labelAlign":"left","labelFlush":false,"labelOverlap":false,"labelBound":false,"tickSize":4,"labelPadding":1}},"x2":{"datum":44.6},"y":{"datum":17.6,"type":"quantitative","axis":{"orient":"right","title":null,"values":[0,20,80,100],"labelFlush":true,"tickSize":3,"labelPadding":1,"labelOverlap":false}},"y2":{"datum":-16.8}}},
  {"data":{"name":"one"},"mark":{"type":"text","text":"⚙","font":"DejaVu Sans","fontSize":34,"color":"white","align":"center","baseline":"middle","clip":false},"encoding":{"x":{"datum":5.2,"type":"quantitative","axis":{"orient":"bottom","title":null,"values":[3,19,35,51,67,83,99,115,131,147,163,179,195,211,227,243,259,275],"labelExpr":"['8 Apr 16:00','13 Apr 08:00','16 Apr 00:00','20 Apr 16:00','23 Apr 08:00','28 Apr 00:00','30 Apr 16:00','5 May 08:00','8 May 00:00','12 May 16:00','15 May 08:00','20 May 00:00','22 May 16:00','27 May 08:00','1 Jun 00:00','3 Jun 16:00','8 Jun 08:00','11 Jun 00:00'][round((datum.value-3)/16)]","labelAlign":"left","labelFlush":false,"labelOverlap":false,"labelBound":false,"tickSize":4,"labelPadding":1}},"y":{"datum":3.8,"type":"quantitative","axis":{"orient":"right","title":null,"values":[0,20,80,100],"labelFlush":true,"tickSize":3,"labelPadding":1,"labelOverlap":false}}}},
  {"data":{"name":"one"},"mark":{"type":"text","text":"instaforex","font":"Liberation Sans","fontSize":26,"color":"white","align":"left","baseline":"alphabetic","clip":false},"encoding":{"x":{"datum":11.4,"type":"quantitative","axis":{"orient":"bottom","title":null,"values":[3,19,35,51,67,83,99,115,131,147,163,179,195,211,227,243,259,275],"labelExpr":"['8 Apr 16:00','13 Apr 08:00','16 Apr 00:00','20 Apr 16:00','23 Apr 08:00','28 Apr 00:00','30 Apr 16:00','5 May 08:00','8 May 00:00','12 May 16:00','15 May 08:00','20 May 00:00','22 May 16:00','27 May 08:00','1 Jun 00:00','3 Jun 16:00','8 Jun 08:00','11 Jun 00:00'][round((datum.value-3)/16)]","labelAlign":"left","labelFlush":false,"labelOverlap":false,"labelBound":false,"tickSize":4,"labelPadding":1}},"y":{"datum":-2.5,"type":"quantitative","axis":{"orient":"right","title":null,"values":[0,20,80,100],"labelFlush":true,"tickSize":3,"labelPadding":1,"labelOverlap":false}}}},
  {"data":{"name":"one"},"mark":{"type":"text","text":"Instant Forex Trading","font":"Liberation Sans","fontSize":10,"color":"white","align":"left","baseline":"alphabetic","clip":false},"encoding":{"x":{"datum":11.9,"type":"quantitative","axis":{"orient":"bottom","title":null,"values":[3,19,35,51,67,83,99,115,131,147,163,179,195,211,227,243,259,275],"labelExpr":"['8 Apr 16:00','13 Apr 08:00','16 Apr 00:00','20 Apr 16:00','23 Apr 08:00','28 Apr 00:00','30 Apr 16:00','5 May 08:00','8 May 00:00','12 May 16:00','15 May 08:00','20 May 00:00','22 May 16:00','27 May 08:00','1 Jun 00:00','3 Jun 16:00','8 Jun 08:00','11 Jun 00:00'][round((datum.value-3)/16)]","labelAlign":"left","labelFlush":false,"labelOverlap":false,"labelBound":false,"tickSize":4,"labelPadding":1}},"y":{"datum":-13.5,"type":"quantitative","axis":{"orient":"right","title":null,"values":[0,20,80,100],"labelFlush":true,"tickSize":3,"labelPadding":1,"labelOverlap":false}}}}
 ]}
]
}
